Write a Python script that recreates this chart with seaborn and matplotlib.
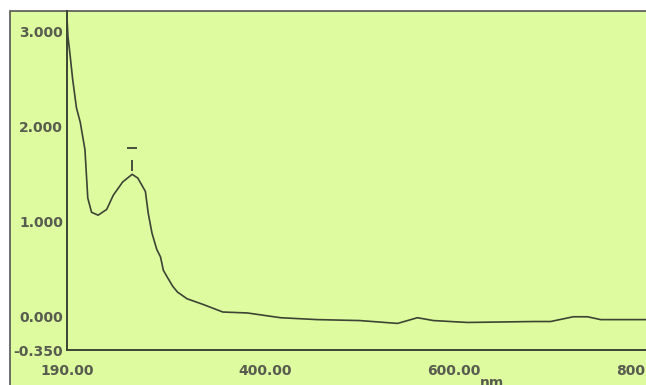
import matplotlib
matplotlib.use("Agg")
import matplotlib.pyplot as plt
from matplotlib.patches import Rectangle
from matplotlib.ticker import MultipleLocator, FixedLocator
import numpy as np
import pandas as pd
import seaborn as sns

# spectrum (nm, absorbance)
wavelength = [190, 191, 193, 196, 200, 204, 209, 212, 216, 223, 232, 239, 249, 259,
              265, 273, 276, 280, 285, 289, 292, 296, 302, 307, 317, 334, 355, 381,
              416, 455, 500, 540, 561, 578, 596, 614, 684, 702, 726, 741, 755, 803]
absorbance = [3.15, 2.95, 2.78, 2.5, 2.2, 2.05, 1.76, 1.25, 1.1, 1.07, 1.13, 1.28, 1.42, 1.5,
              1.46, 1.32, 1.09, 0.88, 0.71, 0.63, 0.49, 0.42, 0.32, 0.26, 0.19, 0.13, 0.05, 0.04,
              -0.01, -0.03, -0.04, -0.07, -0.01, -0.04, -0.05, -0.06, -0.05, -0.05, 0.0, 0.0,
              -0.03, -0.03]

y_ticks = [3.0, 2.0, 1.0, 0.0, -0.35]
y_labels = ["3.000", "2.000", "1.000", "0.000", "-0.350"]
x_ticks = [190, 400, 600, 800]
x_labels = ["190.00", "400.00", "600.00", "800.00"]

df = pd.DataFrame({"nm": wavelength, "abs": absorbance})

green = "#defba0"
ink = "#4d5540"

sns.set_style("white")
plt.rcParams["font.family"] = ["DejaVu Sans"]

fig = plt.figure(figsize=(6.46, 3.85), dpi=100, facecolor="white")
# scanned page frame
frame = Rectangle((10 / 646, -0.1), 1.2, (385 - 11) / 385 + 0.1,
                  transform=fig.transFigure, facecolor=green,
                  edgecolor="#555555", linewidth=1.2, zorder=-10)
fig.add_artist(frame)

ax = fig.add_axes([67 / 646, 35 / 385, 1 - 67 / 646, (350 - 11) / 385])
ax.set_zorder(5)
ax.set_facecolor("none")

sns.lineplot(data=df, x="nm", y="abs", ax=ax, color="#3c4434", linewidth=1.2)

# peak marker like the instrument prints it
win = df[(df["nm"] > 240) & (df["nm"] < 280)]
pk = win.loc[win["abs"].idxmax()]
ax.vlines(pk["nm"], pk["abs"] + 0.03, pk["abs"] + 0.15, color="#3c4434", linewidth=1.3)
ax.hlines(pk["abs"] + 0.28, pk["nm"] - 5, pk["nm"] + 5, color="#3c4434", linewidth=1.3)

ax.set_xlim(190, 803)
ax.set_ylim(-0.35, 3.22)

ax.yaxis.set_major_locator(FixedLocator(y_ticks))
ax.set_yticklabels(y_labels)
ax.yaxis.set_minor_locator(MultipleLocator(0.1))
ax.xaxis.set_major_locator(FixedLocator(x_ticks))
ax.set_xticklabels(x_labels)
ax.xaxis.set_minor_locator(FixedLocator(np.arange(200, 801, 20)))

ax.tick_params(axis="both", which="major", direction="in", length=6, width=1.2,
               colors=ink, labelsize=10, pad=3)
ax.tick_params(axis="x", which="major", pad=10)
ax.tick_params(axis="both", which="minor", direction="in", length=4, width=1.0,
               colors=ink)
for lab in ax.get_xticklabels() + ax.get_yticklabels():
    lab.set_fontweight("bold")
    lab.set_color("#575c4e")

for s in ["top", "right"]:
    ax.spines[s].set_visible(False)
for s in ["left", "bottom"]:
    ax.spines[s].set_color("#3c4434")
    ax.spines[s].set_linewidth(1.4)

ax.set_xlabel("")
ax.set_ylabel("")
fig.text(492 / 646, 2 / 385, "nm", ha="center", va="center", fontsize=10,
         fontweight="bold", color="#575c4e")

fig.savefig("out.png", dpi=100, facecolor=fig.get_facecolor())
